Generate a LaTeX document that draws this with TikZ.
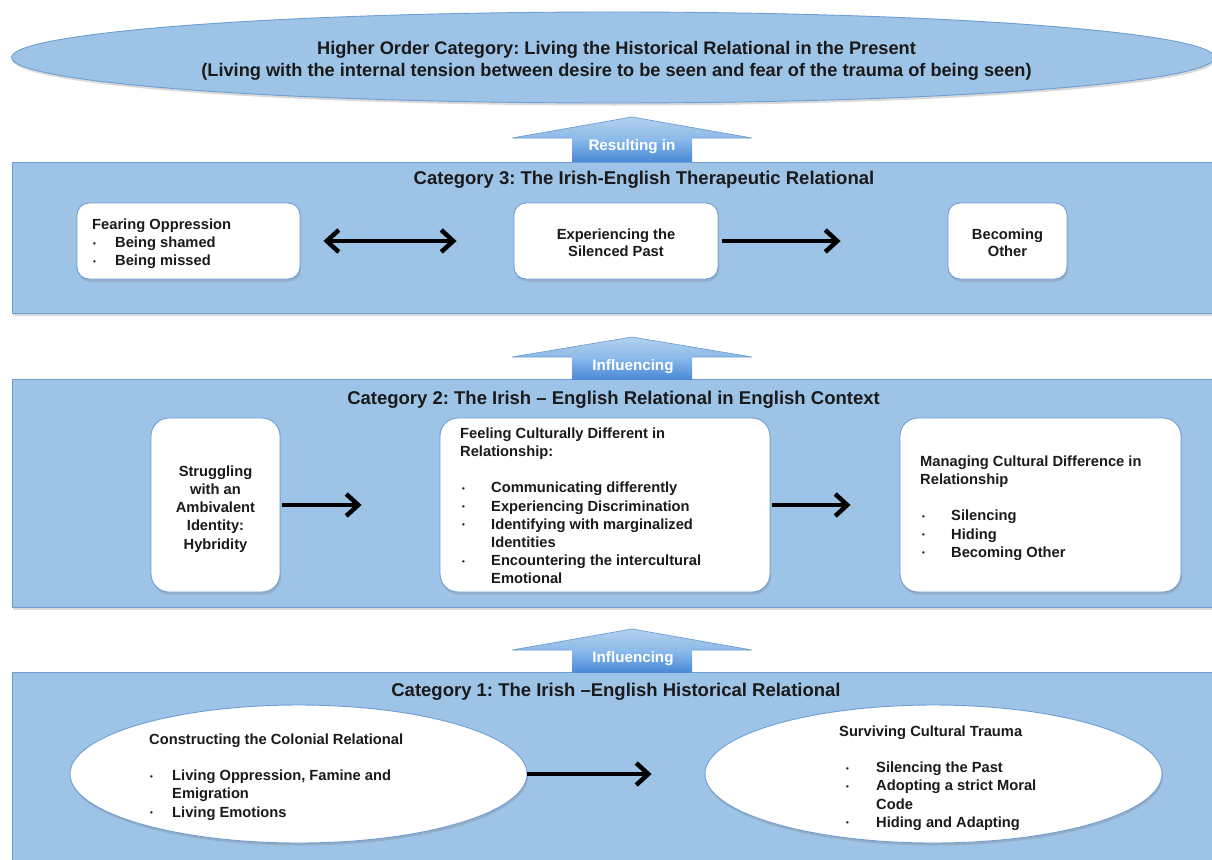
\documentclass[tikz,border=0pt]{standalone}
\usepackage{fontspec}
\setmainfont{Liberation Sans}
\usetikzlibrary{shapes.geometric,arrows.meta,shadows}
\definecolor{catfill}{HTML}{9DC3E6}
\definecolor{catdraw}{HTML}{6E9ED4}
\definecolor{txt}{HTML}{1A1A1A}
\definecolor{headtop}{HTML}{B3D2F0}
\definecolor{headbot}{HTML}{8DB9E6}
\definecolor{shafttop}{HTML}{8FBDEC}
\definecolor{shaftbot}{HTML}{4A8AD6}
\newcommand{\bul}{\raisebox{1.3pt}{\fontsize{8}{8}\selectfont •}}
\frenchspacing
\begin{document}
\begin{tikzpicture}[x=1pt,y=-1pt,
  softshadow/.style={drop shadow={shadow xshift=1pt,shadow yshift=-2.5pt,opacity=0.3}},
  catbox/.style={draw=catdraw,fill=catfill,line width=0.9pt,softshadow,anchor=north west,inner sep=0},
  cattitle/.style={font=\fontsize{18.5}{22}\selectfont\bfseries,text=txt,inner sep=0},
  wbox/.style={draw=catdraw,fill=white,line width=0.9pt,softshadow,inner sep=0},
  btext/.style={font=\fontsize{14.7}{18.2}\selectfont\bfseries,text=txt,inner sep=0},
  conn/.style={line width=4.5pt,-{Straight Barb[length=12pt,width=22pt]}},
  dconn/.style={line width=4.5pt,{Straight Barb[length=12pt,width=22pt]}-{Straight Barb[length=12pt,width=22pt]}},
  uplabel/.style={font=\fontsize{15.2}{18}\selectfont\bfseries,text=white,inner sep=0},
  uphead/.style={draw=catdraw,line width=0.7pt,top color=headtop,bottom color=headbot},
  upshaft/.style={top color=shafttop,bottom color=shaftbot},
]
\useasboundingbox (0,0) rectangle (1212,859);

% higher order ellipse
\node[ellipse,draw=catdraw,fill=catfill,line width=0.9pt,softshadow,
      minimum width=1203,minimum height=91,inner sep=0] (hoc) at (613,57.5) {};
\node[cattitle,font=\fontsize{18.2}{22}\selectfont\bfseries,align=center] (hocT) at (616.5,60.8)
  {Higher Order Category: Living the Historical Relational in the Present\\
   (Living with the internal tension between desire to be seen and fear of the trauma of being seen)};

% category boxes
\node[catbox,minimum width=1205,minimum height=151] (cat3) at (12,162) {};
\node[catbox,minimum width=1205,minimum height=228] (cat2) at (12,379) {};
\node[catbox,minimum width=1205,minimum height=200] (cat1) at (12,672) {};

\node[cattitle,anchor=base] (cat3T) at (644,184) {Category 3: The Irish-English Therapeutic Relational};
\node[cattitle,anchor=base] (cat2T) at (613.5,404.5) {Category 2: The Irish – English Relational in English Context};
\node[cattitle,anchor=base] (cat1T) at (616,696.5) {Category 1: The Irish –English Historical Relational};

% up arrows
\path[uphead] (512,138) -- (632,117) -- (752,138) -- cycle;
\path[upshaft] (572,137.5) rectangle (692,161);
\node[uplabel] (upA) at (632,147) {Resulting in};

\path[uphead] (512,357) -- (632,337) -- (752,357) -- cycle;
\path[upshaft] (572,356.5) rectangle (692,379);
\node[uplabel] (upB) at (633,367) {Influencing};

\path[uphead] (512,650) -- (632,629) -- (752,650) -- cycle;
\path[upshaft] (572,649.5) rectangle (692,672);
\node[uplabel] (upC) at (633,659) {Influencing};

% category 3 boxes
\node[wbox,rounded corners=12pt,minimum width=223,minimum height=76] (fear) at (188.5,241) {};
\node[wbox,rounded corners=12pt,minimum width=204,minimum height=76] (exp) at (616,241) {};
\node[wbox,rounded corners=12pt,minimum width=119,minimum height=76] (bec) at (1007.5,241) {};

\node[btext,align=left,anchor=north west] (fearT) at (92,218.4)
  {Fearing Oppression\\
   \makebox[23pt][l]{\hspace{1pt}\bul}Being shamed\\
   \makebox[23pt][l]{\hspace{1pt}\bul}Being missed};
\node[btext,align=center,anchor=north,font=\fontsize{14.7}{17.2}\selectfont\bfseries] (expT) at (616,228.4)
  {Experiencing the\\Silenced Past};
\node[btext,align=center,anchor=north,font=\fontsize{14.7}{17.2}\selectfont\bfseries] (becT) at (1007.5,228.4)
  {Becoming\\Other};

\draw[dconn,shorten <=23pt,shorten >=57pt] (fear.east) -- (exp.west);
\draw[conn,shorten <=4pt,shorten >=107pt] (exp.east) -- (bec.west);

% category 2 boxes
\node[wbox,rounded corners=18pt,minimum width=129,minimum height=174] (strug) at (215.5,505) {};
\node[wbox,rounded corners=18pt,minimum width=330,minimum height=174] (feel) at (605,505) {};
\node[wbox,rounded corners=18pt,minimum width=281,minimum height=174] (mng) at (1040.5,505) {};

\node[btext,align=center,anchor=north] (strugT) at (215.5,465.4)
  {Struggling\\with an\\Ambivalent\\Identity:\\Hybridity};
\node[btext,align=left,anchor=north west] (feelT) at (460,427.4)
  {Feeling Culturally Different in\\
   Relationship:\\[18.2pt]
   \makebox[31pt][l]{\hspace{2pt}\bul}Communicating differently\\
   \makebox[31pt][l]{\hspace{2pt}\bul}Experiencing Discrimination\\
   \makebox[31pt][l]{\hspace{2pt}\bul}Identifying with marginalized\\
   \hspace*{31pt}Identities\\
   \makebox[31pt][l]{\hspace{2pt}\bul}Encountering the intercultural\\
   \hspace*{31pt}Emotional};
\node[btext,align=left,anchor=north west] (mngT) at (920,455.4)
  {Managing Cultural Difference in\\
   Relationship\\[18.2pt]
   \makebox[31pt][l]{\hspace{2pt}\bul}Silencing\\
   \makebox[31pt][l]{\hspace{2pt}\bul}Hiding\\
   \makebox[31pt][l]{\hspace{2pt}\bul}Becoming Other};

\draw[conn,shorten <=2pt,shorten >=78pt] (strug.east) -- (strug.east -| feel.west);
\draw[conn,shorten <=2pt,shorten >=49pt] (feel.east) -- (feel.east -| mng.west);

% category 1 ellipses
\node[ellipse,draw=catdraw,fill=white,line width=0.9pt,softshadow,
      minimum width=457,minimum height=138,inner sep=0] (cons) at (298.5,774) {};
\node[ellipse,draw=catdraw,fill=white,line width=0.9pt,softshadow,
      minimum width=457,minimum height=138,inner sep=0] (surv) at (933.5,774) {};

\node[btext,align=left,anchor=north west] (consT) at (149,733.4)
  {Constructing the Colonial Relational\\[18.2pt]
   \makebox[23pt][l]{\hspace{1pt}\bul}Living Oppression, Famine and\\
   \hspace*{23pt}Emigration\\
   \makebox[23pt][l]{\hspace{1pt}\bul}Living Emotions};
\node[btext,align=left,anchor=north west] (survT) at (839,725.4)
  {Surviving Cultural Trauma\\[18.2pt]
   \hspace*{7pt}\makebox[30pt][l]{\bul}Silencing the Past\\
   \hspace*{7pt}\makebox[30pt][l]{\bul}Adopting a strict Moral\\
   \hspace*{37pt}Code\\
   \hspace*{7pt}\makebox[30pt][l]{\bul}Hiding and Adapting};

\draw[conn,shorten >=53pt] (cons.east) -- (cons.east -| surv.west);
\end{tikzpicture}
\end{document}
